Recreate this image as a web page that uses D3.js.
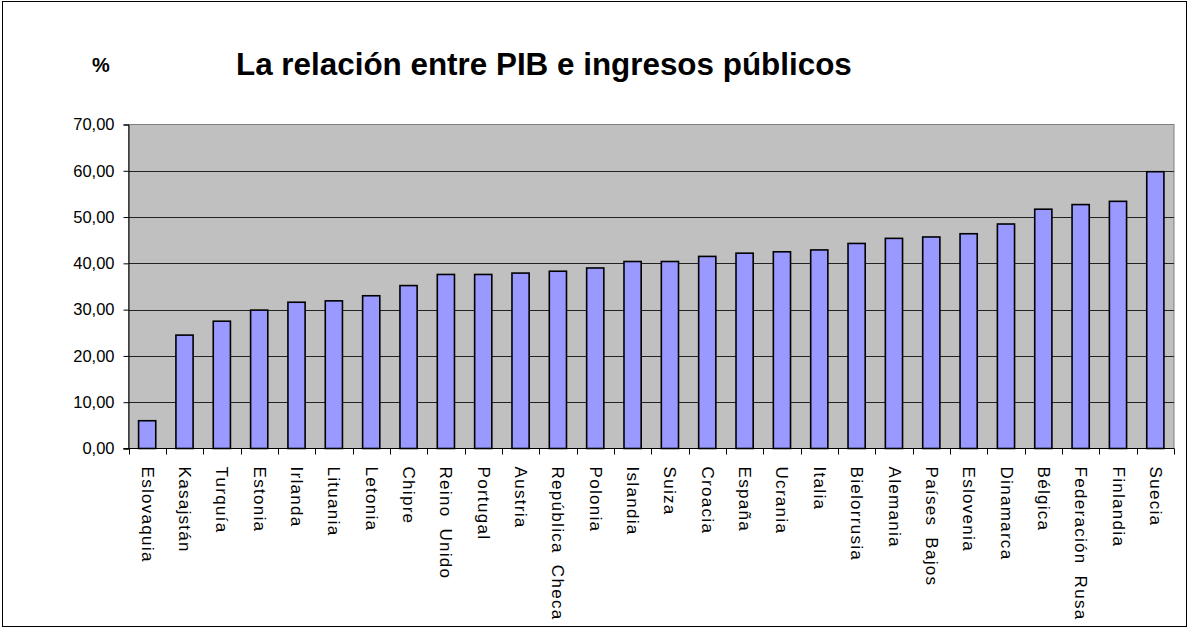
<!DOCTYPE html>
<html>
<head>
<meta charset="utf-8">
<script src="https://cdn.jsdelivr.net/npm/d3@7"></script>
<style>
  html, body { margin: 0; padding: 0; background: #fff; }
  svg { display: block; }
  text { font-family: Arial, "Liberation Sans", sans-serif; fill: #000; }
</style>
</head>
<body>
<script>
// Government revenue as a share of GDP, by country (%)
const countries = [
  "Eslovaquia", "Kasajstán", "Turquía", "Estonia", "Irlanda", "Lituania",
  "Letonia", "Chipre", "Reino Unido", "Portugal", "Austria", "República Checa",
  "Polonia", "Islandia", "Suiza", "Croacia", "España", "Ucrania", "Italia",
  "Bielorrusia", "Alemania", "Países Bajos", "Eslovenia", "Dinamarca",
  "Bélgica", "Federación Rusa", "Finlandia", "Suecia"
];
const revenue = [
  6.0, 24.5, 27.5, 29.9, 31.6, 31.9,
  33.0, 35.2, 37.6, 37.6, 37.9, 38.3,
  39.0, 40.4, 40.4, 41.5, 42.2, 42.5, 42.9,
  44.3, 45.4, 45.7, 46.4, 48.5,
  51.7, 52.7, 53.4, 59.8
];
const yTicks = [0, 10, 20, 30, 40, 50, 60, 70];
const titleText = "La relación entre PIB e ingresos públicos";
const unitText = "%";

const W = 1189, H = 628;
const plot = { left: 128.5, right: 1174, top: 124.5, bottom: 448.5 };

const svg = d3.select("body").append("svg")
  .attr("width", W).attr("height", H);

// outer chart frame
svg.append("rect")
  .attr("x", 2.5).attr("y", 1.5)
  .attr("width", 1184).attr("height", 625)
  .attr("fill", "#fff").attr("stroke", "#000").attr("stroke-width", 1);

const x = d3.scaleBand()
  .domain(countries)
  .range([plot.left, plot.right])
  .paddingInner(0.54)
  .paddingOuter(0.27);

const y = d3.scaleLinear()
  .domain([0, 70])
  .range([plot.bottom, plot.top]);

// plot background
svg.append("rect")
  .attr("x", plot.left).attr("y", plot.top)
  .attr("width", plot.right - plot.left)
  .attr("height", plot.bottom - plot.top)
  .attr("fill", "#c0c0c0")
  .attr("stroke", "#808080").attr("stroke-width", 1);

// horizontal gridlines
svg.append("g")
  .selectAll("line")
  .data(yTicks.filter(d => d > 0 && d < 70))
  .join("line")
  .attr("x1", plot.left).attr("x2", plot.right)
  .attr("y1", d => Math.round(y(d)) + 0.5)
  .attr("y2", d => Math.round(y(d)) + 0.5)
  .attr("stroke", "#222").attr("stroke-width", 1);

// bars
svg.append("g")
  .selectAll("rect")
  .data(countries)
  .join("rect")
  .attr("x", d => x(d))
  .attr("y", (d, i) => y(revenue[i]))
  .attr("width", x.bandwidth())
  .attr("height", (d, i) => y(0) - y(revenue[i]))
  .attr("fill", "#9999ff")
  .attr("stroke", "#000").attr("stroke-width", 1.6);

// y axis
const yAxis = d3.axisLeft(y)
  .tickValues(yTicks)
  .tickSize(5)
  .tickPadding(9)
  .tickFormat(d => d3.format(".2f")(d).replace(".", ","));

const gy = svg.append("g")
  .attr("transform", `translate(${plot.left},0)`)
  .call(yAxis);
gy.select(".domain").attr("stroke", "#000");
gy.selectAll(".tick line").attr("stroke", "#000");
gy.selectAll(".tick text")
  .style("font-size", "16.5px")
  .attr("fill", "#000");

// x axis baseline and boundary ticks
const boundaries = d3.range(countries.length + 1)
  .map(i => plot.left + (plot.right - plot.left) * i / countries.length);

const gx = svg.append("g");
gx.append("line")
  .attr("x1", plot.left - 5).attr("x2", plot.right)
  .attr("y1", plot.bottom).attr("y2", plot.bottom)
  .attr("stroke", "#000").attr("stroke-width", 1);
gx.selectAll("line.tk")
  .data(boundaries)
  .join("line")
  .attr("class", "tk")
  .attr("x1", d => Math.round(d) + 0.5).attr("x2", d => Math.round(d) + 0.5)
  .attr("y1", plot.bottom).attr("y2", plot.bottom + 6)
  .attr("stroke", "#000").attr("stroke-width", 1);

// category labels, rotated to read top-to-bottom
gx.selectAll("text")
  .data(countries)
  .join("text")
  .attr("transform", d => `translate(${x(d) + x.bandwidth() / 2 + 0.5},${plot.bottom + 18}) rotate(90)`)
  .attr("dy", "0.35em")
  .style("font-size", "17px")
  .style("letter-spacing", "1.3px")
  .style("word-spacing", "5px")
  .text(d => d);

// title and unit
svg.append("text")
  .attr("x", 236).attr("y", 75)
  .style("font-size", "31.4px")
  .style("font-weight", "bold")
  .text(titleText);

svg.append("text")
  .attr("x", 92).attr("y", 72)
  .style("font-size", "20px")
  .style("font-weight", "bold")
  .text(unitText);
</script>
</body>
</html>
